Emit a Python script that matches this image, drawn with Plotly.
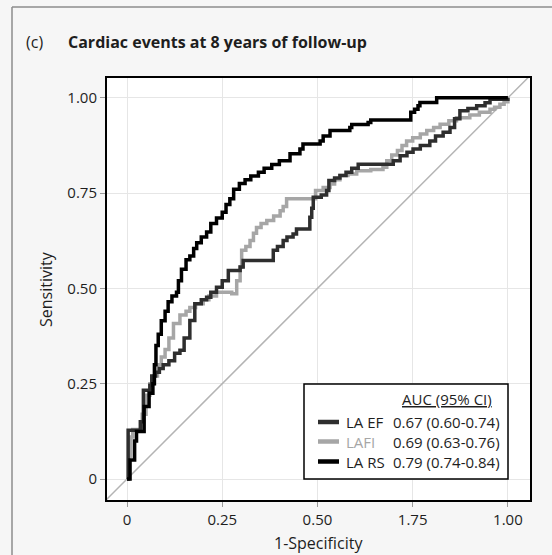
import plotly.graph_objects as go

# ROC staircase corners (1-specificity, sensitivity) for each predictor
fpr_la_ef = [0, 0.003, 0.035, 0.043, 0.06, 0.065, 0.075, 0.085, 0.095, 0.11, 0.125, 0.139,
             0.15, 0.165, 0.178, 0.195, 0.209, 0.22, 0.235, 0.25, 0.266, 0.297, 0.305, 0.371,
             0.384, 0.395, 0.41, 0.42, 0.436, 0.445, 0.476, 0.48, 0.485, 0.489, 0.51, 0.524,
             0.53, 0.545, 0.559, 0.575, 0.59, 0.607, 0.699, 0.717, 0.735, 0.751, 0.77, 0.795,
             0.81, 0.83, 0.848, 0.86, 0.874, 0.895, 0.918, 0.94, 0.953, 1.0]
tpr_la_ef = [0, 0.128, 0.15, 0.233, 0.246, 0.27, 0.28, 0.29, 0.30, 0.31, 0.33, 0.338,
             0.37, 0.416, 0.46, 0.47, 0.477, 0.49, 0.503, 0.52, 0.547, 0.556, 0.573, 0.573,
             0.60, 0.61, 0.626, 0.635, 0.643, 0.656, 0.656, 0.687, 0.71, 0.739, 0.745, 0.757,
             0.783, 0.79, 0.796, 0.805, 0.815, 0.826, 0.835, 0.848, 0.857, 0.866, 0.875, 0.887,
             0.90, 0.91, 0.922, 0.945, 0.966, 0.972, 0.979, 0.987, 0.996, 1.0]

fpr_lafi = [0, 0.005, 0.01, 0.015, 0.035, 0.04, 0.05, 0.06, 0.07, 0.08, 0.09, 0.10,
            0.11, 0.122, 0.139, 0.155, 0.165, 0.18, 0.20, 0.215, 0.235, 0.275, 0.288, 0.297,
            0.301, 0.312, 0.323, 0.332, 0.34, 0.352, 0.367, 0.385, 0.402, 0.41, 0.419, 0.495,
            0.515, 0.533, 0.545, 0.559, 0.58, 0.603, 0.64, 0.672, 0.682, 0.695, 0.71, 0.722,
            0.734, 0.75, 0.77, 0.787, 0.805, 0.822, 0.845, 0.865, 0.90, 0.925, 0.953, 0.965,
            0.979, 0.99, 1.0]
tpr_lafi = [0, 0.06, 0.11, 0.13, 0.13, 0.17, 0.22, 0.25, 0.27, 0.30, 0.32, 0.34,
            0.37, 0.408, 0.43, 0.44, 0.45, 0.46, 0.47, 0.48, 0.49, 0.486, 0.52, 0.556,
            0.60, 0.61, 0.626, 0.645, 0.66, 0.67, 0.678, 0.69, 0.704, 0.715, 0.735, 0.757,
            0.765, 0.774, 0.785, 0.796, 0.80, 0.809, 0.812, 0.818, 0.835, 0.85, 0.862, 0.875,
            0.887, 0.895, 0.905, 0.914, 0.922, 0.931, 0.94, 0.948, 0.955, 0.962, 0.970, 0.975,
            0.983, 0.99, 1.0]

fpr_la_rs = [0, 0.008, 0.02, 0.025, 0.045, 0.058, 0.068, 0.072, 0.076, 0.082, 0.09, 0.10,
             0.108, 0.118, 0.13, 0.135, 0.143, 0.155, 0.165, 0.175, 0.183, 0.195, 0.209, 0.22,
             0.235, 0.25, 0.26, 0.27, 0.28, 0.295, 0.31, 0.325, 0.345, 0.36, 0.38, 0.40,
             0.428, 0.454, 0.462, 0.507, 0.515, 0.533, 0.585, 0.59, 0.633, 0.64, 0.745, 0.755,
             0.764, 0.769, 0.813, 1.0]
tpr_la_rs = [0, 0.05, 0.10, 0.125, 0.19, 0.225, 0.25, 0.30, 0.35, 0.38, 0.415, 0.44,
             0.465, 0.48, 0.49, 0.52, 0.55, 0.575, 0.585, 0.605, 0.62, 0.635, 0.648, 0.67,
             0.685, 0.70, 0.72, 0.735, 0.76, 0.775, 0.785, 0.795, 0.805, 0.815, 0.825, 0.835,
             0.853, 0.866, 0.879, 0.887, 0.90, 0.914, 0.922, 0.93, 0.935, 0.942, 0.962, 0.97,
             0.979, 0.988, 1.0, 1.0]

series_names = ["LA EF", "LAFI", "LA RS"]
auc_labels = ["0.67 (0.60-0.74)", "0.69 (0.63-0.76)", "0.79 (0.74-0.84)"]
series_colors = ["#2e2e2e", "#a6a6a6", "#000000"]

tick_vals = [0, 0.25, 0.5, 0.75, 1.0]
x_tick_text = ["0", "0.25", "0.50", "1.75", "1.00"]
y_tick_text = ["0", "0.25", "0.50", "0.75", "1.00"]

FONT = "Open Sans"
TEXT = "#1e1e1e"

fig = go.Figure()

# chance line
fig.add_trace(go.Scatter(x=[-0.1, 1.1], y=[-0.1, 1.1], mode="lines",
                         line=dict(color="#b4b4b4", width=1.5),
                         showlegend=False, hoverinfo="skip"))

curves = {
    "LA EF": (fpr_la_ef, tpr_la_ef),
    "LAFI": (fpr_lafi, tpr_lafi),
    "LA RS": (fpr_la_rs, tpr_la_rs),
}
for name in ["LAFI", "LA EF", "LA RS"]:
    i = series_names.index(name)
    xs, ys = curves[name]
    fig.add_trace(go.Scatter(x=xs, y=ys, mode="lines", name=name,
                             line=dict(color=series_colors[i], width=3.5, shape="hv"),
                             showlegend=False))

axis_common = dict(
    tickvals=tick_vals, showgrid=True, gridcolor="#e6e6e6", gridwidth=1,
    zeroline=False, showline=True, linecolor="#000000", linewidth=2, mirror=True,
    ticks="outside", ticklen=5, tickwidth=1, tickcolor="#9a9a9a",
    tickfont=dict(family=FONT, size=15, color=TEXT),
)
fig.update_xaxes(range=[-0.0525, 1.058], ticktext=x_tick_text, **axis_common)
fig.update_yaxes(range=[-0.055, 1.052], ticktext=y_tick_text, **axis_common)

# plot-area pixel geometry -> paper coordinates
L, T, R, B = 107, 78, 530, 500
W, H = R - L, B - T


def px(x):
    return (x - L) / W


def py(y):
    return (B - y) / H


frame = dict(color="#8c8c8c", width=1.5)
shapes = [
    # outer panel frame: left and top edges
    dict(type="line", xref="paper", yref="paper", x0=px(12), x1=px(12), y0=py(7), y1=py(570),
         line=frame, layer="below"),
    dict(type="line", xref="paper", yref="paper", x0=px(12), x1=px(570), y0=py(7), y1=py(7),
         line=frame, layer="below"),
    # legend box
    dict(type="rect", xref="paper", yref="paper", x0=px(304), y0=py(479), x1=px(508), y1=py(384),
         line=dict(color="#000000", width=1.5), fillcolor="white"),
]
row_y = [422, 441.5, 461.5]
annotations = [
    dict(text="(c)", x=px(24), y=py(42), xref="paper", yref="paper", xanchor="left",
         yanchor="middle", showarrow=False, font=dict(family=FONT, size=16, color=TEXT)),
    dict(text="<b>Cardiac events at 8 years of follow-up</b>", x=px(66), y=py(42),
         xref="paper", yref="paper", xanchor="left", yanchor="middle", showarrow=False,
         font=dict(family=FONT, size=16, color=TEXT)),
    dict(text="Sensitivity", x=px(46), y=py(289), xref="paper", yref="paper", textangle=-90,
         xanchor="center", yanchor="middle", showarrow=False,
         font=dict(family=FONT, size=16, color=TEXT)),
    dict(text="1-Specificity", x=px(318), y=py(543), xref="paper", yref="paper",
         xanchor="center", yanchor="middle", showarrow=False,
         font=dict(family=FONT, size=16, color=TEXT)),
    dict(text='<span style="text-decoration:underline">AUC (95% CI)</span>', x=px(447),
         y=py(399), xref="paper", yref="paper", xanchor="center", yanchor="middle",
         showarrow=False, font=dict(family=FONT, size=15, color=TEXT)),
]
for i, name in enumerate(series_names):
    yy = row_y[i]
    shapes.append(dict(type="line", xref="paper", yref="paper", x0=px(318), x1=px(339),
                       y0=py(yy), y1=py(yy), line=dict(color=series_colors[i], width=4.5)))
    name_color = series_colors[i] if name == "LAFI" else TEXT
    annotations.append(dict(text=name, x=px(344), y=py(yy), xref="paper", yref="paper",
                            xanchor="left", yanchor="middle", showarrow=False,
                            font=dict(family=FONT, size=15, color=name_color)))
    annotations.append(dict(text=auc_labels[i], x=px(391), y=py(yy), xref="paper",
                            yref="paper", xanchor="left", yanchor="middle", showarrow=False,
                            font=dict(family=FONT, size=15, color=TEXT)))

fig.update_layout(
    width=552, height=555,
    margin=dict(l=L, r=552 - R, t=T, b=555 - B),
    paper_bgcolor="#f6f6f6", plot_bgcolor="white",
    shapes=shapes, annotations=annotations, showlegend=False,
)

fig.write_html("out.html")
